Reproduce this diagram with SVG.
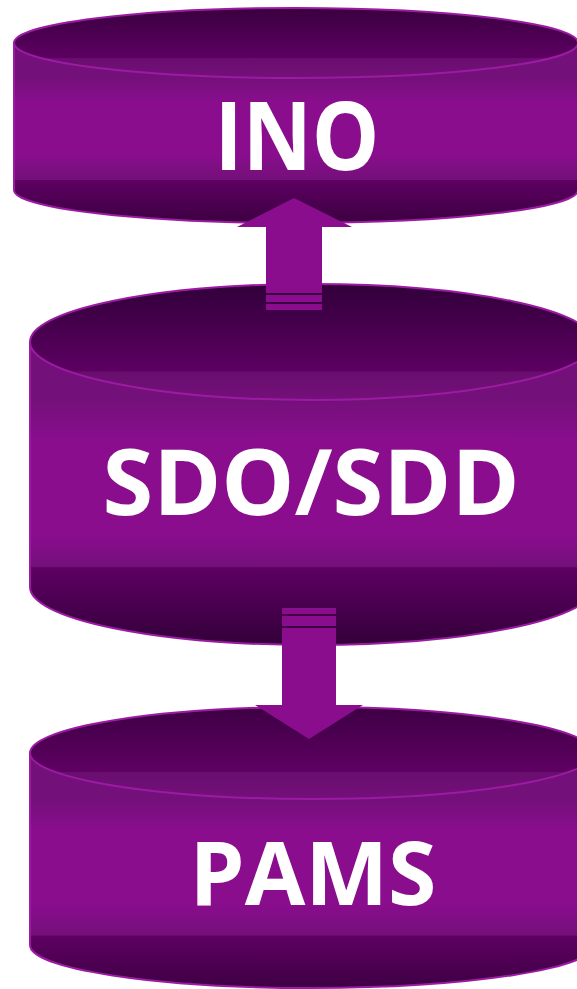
<svg xmlns="http://www.w3.org/2000/svg" width="577" height="989" viewBox="0 0 577 989">
<style>
.rim{stroke:#9c1ba3;stroke-width:2}
.lbl{font-family:"Open Sans","Liberation Sans",sans-serif;font-weight:700;fill:#ffffff;text-anchor:middle}
.arrow{fill:#8a0d8e}
</style>
<defs>
<linearGradient id="topINO" gradientUnits="userSpaceOnUse" x1="0" y1="8" x2="0" y2="78">
<stop offset="0" stop-color="#3a003f"/><stop offset="0.71" stop-color="#5c0062"/><stop offset="0.72" stop-color="#690e6f"/><stop offset="1" stop-color="#74107a"/>
</linearGradient>
<linearGradient id="bodyINO" gradientUnits="userSpaceOnUse" x1="0" y1="78" x2="0" y2="223">
<stop offset="0" stop-color="#74107a"/><stop offset="0.17" stop-color="#8a0d8e"/><stop offset="0.52" stop-color="#8a0d8e"/><stop offset="0.70" stop-color="#74107a"/><stop offset="0.705" stop-color="#5e0062"/><stop offset="1" stop-color="#3c0041"/>
</linearGradient>
<linearGradient id="topSDO" gradientUnits="userSpaceOnUse" x1="0" y1="284" x2="0" y2="400">
<stop offset="0" stop-color="#32003a"/><stop offset="0.75" stop-color="#5c0062"/><stop offset="0.76" stop-color="#690e6f"/><stop offset="1" stop-color="#74107a"/>
</linearGradient>
<linearGradient id="bodySDO" gradientUnits="userSpaceOnUse" x1="0" y1="400" x2="0" y2="645">
<stop offset="0" stop-color="#74107a"/><stop offset="0.17" stop-color="#8a0d8e"/><stop offset="0.55" stop-color="#8a0d8e"/><stop offset="0.68" stop-color="#74107a"/><stop offset="0.685" stop-color="#5e0062"/><stop offset="1" stop-color="#33003a"/>
</linearGradient>
<linearGradient id="topPAMS" gradientUnits="userSpaceOnUse" x1="0" y1="707" x2="0" y2="799">
<stop offset="0" stop-color="#3e0044"/><stop offset="0.70" stop-color="#5e0062"/><stop offset="0.71" stop-color="#690e6f"/><stop offset="1" stop-color="#74107a"/>
</linearGradient>
<linearGradient id="bodyPAMS" gradientUnits="userSpaceOnUse" x1="0" y1="799" x2="0" y2="988">
<stop offset="0" stop-color="#74107a"/><stop offset="0.17" stop-color="#8a0d8e"/><stop offset="0.55" stop-color="#8a0d8e"/><stop offset="0.72" stop-color="#74107a"/><stop offset="0.725" stop-color="#5e0062"/><stop offset="1" stop-color="#3e0044"/>
</linearGradient>
</defs>

<g id="node-ino">
<path class="rim" fill="url(#bodyINO)" d="M14,43 L14,190 A282,33 0 0 0 578,190 L578,43 Z"/>
<ellipse class="rim" fill="url(#topINO)" cx="296" cy="43" rx="282" ry="35"/>
<text class="lbl" x="297" y="170" font-size="95" textLength="165" lengthAdjust="spacingAndGlyphs">INO</text>
</g>

<g id="node-sdo">
<path class="rim" fill="url(#bodySDO)" d="M30,342 L30,587 A282,58 0 0 0 594,587 L594,342 Z"/>
<ellipse class="rim" fill="url(#topSDO)" cx="312" cy="342" rx="282" ry="58"/>
<text class="lbl" x="311" y="515" font-size="91" textLength="417" lengthAdjust="spacingAndGlyphs">SDO/SDD</text>
</g>

<g id="node-pams">
<path class="rim" fill="url(#bodyPAMS)" d="M30,753 L30,945 A282,43 0 0 0 594,945 L594,753 Z"/>
<ellipse class="rim" fill="url(#topPAMS)" cx="312" cy="753" rx="282" ry="46"/>
<text class="lbl" x="313" y="905" font-size="87" textLength="247" lengthAdjust="spacingAndGlyphs">PAMS</text>
</g>

<g id="connectors">
<polygon class="arrow" points="294,198 352,227 322,227 322,293 266,293 266,227 237,227"/>
<rect class="arrow" x="266" y="295" width="56" height="7"/>
<rect class="arrow" x="266" y="304" width="56" height="6"/>
<rect class="arrow" x="282" y="608" width="54" height="6"/>
<rect class="arrow" x="282" y="616" width="54" height="10"/>
<polygon class="arrow" points="282,628 336,628 336,705 363,705 309,739 255,705 282,705"/>
</g>
</svg>
